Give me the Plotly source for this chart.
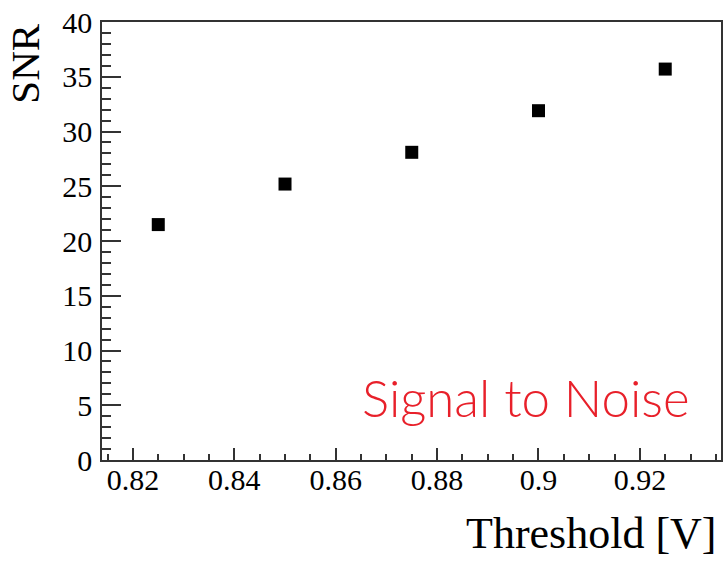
import plotly.graph_objects as go

# Signal-to-noise ratio measured at each discriminator threshold
threshold_v = [0.825, 0.850, 0.875, 0.900, 0.925]
snr = [21.5, 25.2, 28.1, 31.9, 35.7]

x_range = [0.8139, 0.9360]
y_range = [0, 40]

serif = "Liberation Serif, Times New Roman, serif"

fig = go.Figure()
fig.add_trace(go.Scatter(
    x=threshold_v, y=snr, mode="markers",
    marker=dict(symbol="square", size=13, color="black", line=dict(width=0)),
    showlegend=False,
))

axis_common = dict(
    showline=True, linecolor="#333333", linewidth=1.5, mirror=True,
    showgrid=False, zeroline=False, ticks="inside", tickcolor="#333333",
    tickwidth=1.5, tickfont=dict(family=serif, size=30, color="black"),
)

fig.update_xaxes(
    range=x_range, tick0=0.82, dtick=0.02, ticklen=12,
    tickformat=".2~f", ticklabelstandoff=-8,
    minor=dict(tick0=0.815, dtick=0.005, ticklen=6, ticks="inside",
               tickcolor="#333333", tickwidth=1.5),
    **axis_common,
)
fig.update_yaxes(
    range=y_range, tick0=0, dtick=5, ticklen=19, ticklabelstandoff=2,
    minor=dict(dtick=1, ticklen=9, ticks="inside",
               tickcolor="#333333", tickwidth=1.5),
    **axis_common,
)

fig.add_annotation(
    text="SNR", xref="paper", yref="paper", x=-0.125, y=1.0,
    xanchor="center", yanchor="top", textangle=-90, showarrow=False,
    font=dict(family=serif, size=41, color="black"),
)
fig.add_annotation(
    text="Threshold [V]", xref="paper", yref="paper", x=0.997, y=-0.167,
    xanchor="right", yanchor="middle", showarrow=False,
    font=dict(family=serif, size=44, color="black"),
)
fig.add_annotation(
    text="Signal to Noise", xref="paper", yref="paper", x=0.416, y=0.143,
    xanchor="left", yanchor="middle", showarrow=False,
    font=dict(family="Lato", size=51, color="#e8202a", weight=300),
)

fig.update_layout(
    width=726, height=561,
    margin=dict(l=102, r=3, t=22, b=101),
    paper_bgcolor="white", plot_bgcolor="white",
)

fig.write_html("out.html")
